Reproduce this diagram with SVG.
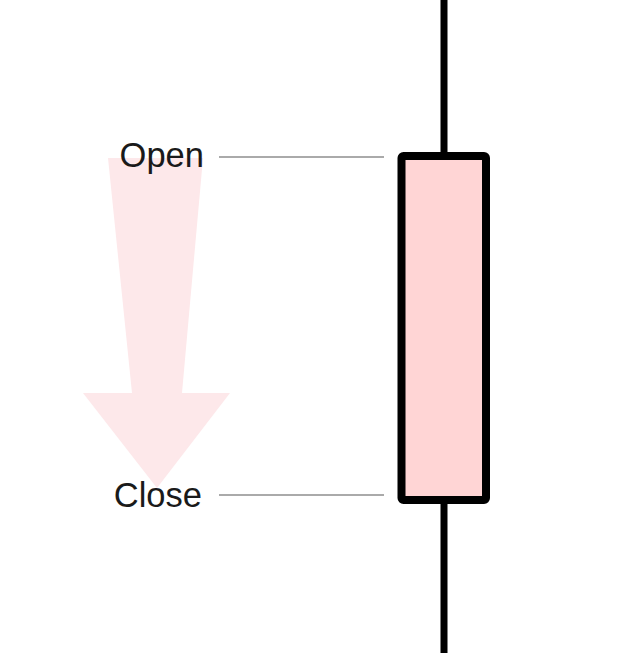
<svg xmlns="http://www.w3.org/2000/svg" width="640" height="653" viewBox="0 0 640 653">
<style>
.lbl{font-family:"Liberation Sans",Arial,sans-serif;font-size:34.5px;fill:#1a1a1a;text-anchor:end}
.guide{stroke:#aaaaaa;stroke-width:2}
.candle{fill:#ffd5d5;stroke:#000;stroke-width:8;stroke-linejoin:round}
.wick{stroke:#000;stroke-width:7}
</style>
<rect width="640" height="653" fill="#fff"/>
<g id="arrow">
<polygon points="108,158 203,158 182,393 230,393 157,488 83,393 132,393" fill="#fde8ea"/>
</g>
<g id="connectors">
<line class="guide" x1="219" y1="157" x2="384" y2="157"/>
<line class="guide" x1="219" y1="495" x2="384" y2="495"/>
</g>
<g id="candle">
<line class="wick" x1="444" y1="0" x2="444" y2="156"/>
<line class="wick" x1="444" y1="500" x2="444" y2="653"/>
<rect class="candle" x="401.5" y="156" width="84.5" height="344" rx="2"/>
</g>
<g id="label-open"><text class="lbl" x="204" y="167">Open</text></g>
<g id="label-close"><text class="lbl" x="202" y="507">Close</text></g>
</svg>
